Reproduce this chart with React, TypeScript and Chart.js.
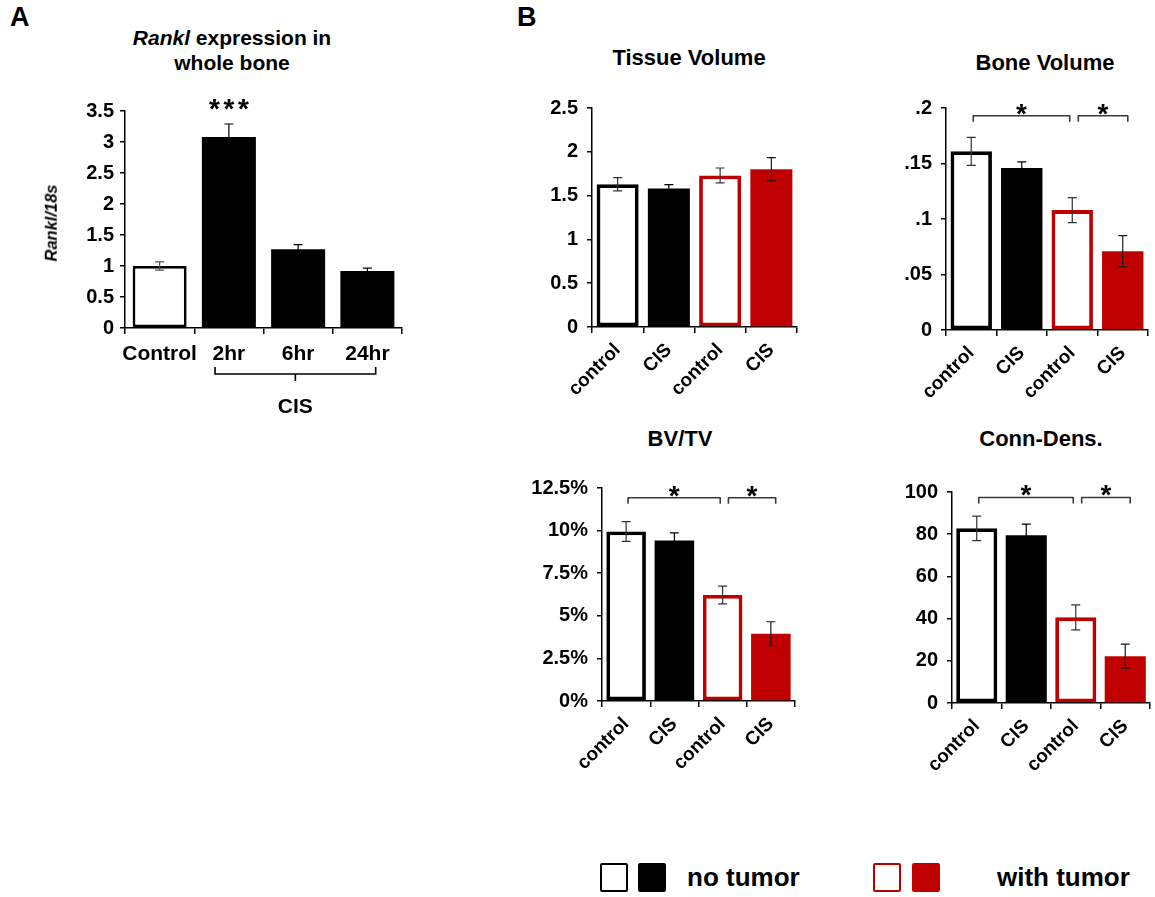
import React, { useEffect, useRef } from 'react';
import { Chart, registerables } from 'chart.js';

Chart.register(...registerables);

const FONT = "'Liberation Sans', Arial, Helvetica, sans-serif";
const RED = '#C00000';

// ---------- Panel A data ----------
const rankLabels = ['Control', '2hr', '6hr', '24hr'];
const rankMeans = [1.0, 3.08, 1.27, 0.92];
const rankErr = [0.065, 0.21, 0.075, 0.045];

// ---------- Panel B data ----------
const groupLabels = ['control', 'CIS', 'control', 'CIS'];
const tvMeans = [1.63, 1.58, 1.73, 1.8];
const tvErr = [0.076, 0.045, 0.085, 0.133];
const bvMeans = [0.161, 0.146, 0.108, 0.071];
const bvErr = [0.0126, 0.0055, 0.0113, 0.014];
const bvtvMeans = [9.95, 9.42, 6.22, 3.95];
const bvtvErr = [0.58, 0.45, 0.52, 0.7];
const connMeans = [82.8, 79.5, 40.6, 22.2];
const connErr = [5.8, 5.3, 5.9, 5.7];

// significance brackets: [fromIndex, toIndex]
const sigPairs = [
  [0.04, 1.95],
  [2.12, 3.1],
];
const bvSigLevel = 0.193;
const bvtvSigLevel = 11.93;
const connSigLevel = 97.4;

const groupFills = ['#ffffff', '#000000', '#ffffff', RED];
const groupBorders = ['#000000', '#000000', RED, RED];
const groupBorderW = [3.8, 0, 3.8, 0];
const groupErrColors = ['#333333', '#000000', '#333333', '#1a1a1a'];

type Bracket = { from: number; to: number; y: number };

type PanelProps = {
  left: number;
  top: number;
  width: number;
  height: number;
  yAxisWidth: number;
  padTop: number;
  padRight: number;
  xAxisHeight: number;
  labels: string[];
  means: number[];
  errs: number[];
  fills: string[];
  borders: string[];
  borderWidths: number[];
  errColors: string[];
  yMax: number;
  step: number;
  fmt: (v: number) => string;
  yFont: number;
  xFont: number;
  rotation: number;
  barPct: number;
  yPad: number;
  xPad: number;
  brackets?: Bracket[];
  extra?: (chart: any) => void;
};

function BarPanel(p: PanelProps) {
  const ref = useRef<HTMLCanvasElement>(null);
  useEffect(() => {
    const canvas = ref.current;
    if (!canvas) return;
    const overlay = {
      id: 'overlay',
      afterDatasetsDraw(chart: any) {
        const ctx = chart.ctx;
        const xs = chart.scales.x;
        const ys = chart.scales.y;
        const meta = chart.getDatasetMeta(0);
        ctx.save();
        meta.data.forEach((bar: any, i: number) => {
          const m = p.means[i];
          const e = p.errs[i];
          const yh = ys.getPixelForValue(m + e);
          const yl = ys.getPixelForValue(m - e);
          ctx.strokeStyle = p.errColors[i];
          ctx.lineWidth = 1.2;
          ctx.beginPath();
          ctx.moveTo(bar.x, yl);
          ctx.lineTo(bar.x, yh);
          ctx.moveTo(bar.x - 4.5, yh);
          ctx.lineTo(bar.x + 4.5, yh);
          ctx.moveTo(bar.x - 4.5, yl);
          ctx.lineTo(bar.x + 4.5, yl);
          ctx.stroke();
        });
        (p.brackets || []).forEach((b) => {
          const x1 = xs.getPixelForValue(b.from);
          const x2 = xs.getPixelForValue(b.to);
          const y = ys.getPixelForValue(b.y);
          ctx.strokeStyle = '#3a3a3a';
          ctx.lineWidth = 1.6;
          ctx.lineJoin = 'round';
          ctx.beginPath();
          ctx.moveTo(x1, y + 6);
          ctx.lineTo(x1, y);
          ctx.lineTo(x2, y);
          ctx.lineTo(x2, y + 6);
          ctx.stroke();
          ctx.fillStyle = '#000';
          ctx.font = `bold 28px ${FONT}`;
          ctx.textAlign = 'center';
          ctx.textBaseline = 'alphabetic';
          ctx.fillText('*', (x1 + x2) / 2, y + 7);
        });
        if (p.extra) p.extra(chart);
        ctx.restore();
      },
    };
    const chart = new Chart(canvas, {
      type: 'bar',
      data: {
        labels: p.labels,
        datasets: [
          {
            data: p.means,
            backgroundColor: p.fills,
            borderColor: p.borders,
            borderWidth: p.borderWidths,
            borderSkipped: false,
            barPercentage: p.barPct,
            categoryPercentage: 1,
          },
        ],
      },
      options: {
        animation: false,
        responsive: false,
        maintainAspectRatio: false,
        layout: { padding: { top: p.padTop, right: p.padRight, left: 0, bottom: 0 } },
        plugins: {
          legend: { display: false },
          tooltip: { enabled: false },
          title: { display: false },
        },
        scales: {
          x: {
            grid: {
              display: true,
              drawOnChartArea: false,
              drawTicks: true,
              tickLength: 6,
              color: '#000',
              lineWidth: 1.5,
              offset: true,
            },
            border: { display: true, color: '#000', width: 1.5 },
            ticks: {
              color: '#000',
              font: { family: FONT, size: p.xFont, weight: 'bold' },
              padding: p.xPad,
              maxRotation: p.rotation,
              minRotation: p.rotation,
              autoSkip: false,
            },
            afterFit: (s: any) => {
              s.height = p.xAxisHeight;
            },
          },
          y: {
            min: 0,
            max: p.yMax,
            grid: {
              display: true,
              drawOnChartArea: false,
              drawTicks: true,
              tickLength: 5,
              color: '#000',
              lineWidth: 1.5,
            },
            border: { display: true, color: '#000', width: 1.5 },
            ticks: {
              stepSize: p.step,
              color: '#000',
              font: { family: FONT, size: p.yFont, weight: 'bold' },
              padding: p.yPad,
              callback: (v: any) => p.fmt(Number(v)),
            },
            afterFit: (s: any) => {
              s.width = p.yAxisWidth;
            },
          },
        },
      } as any,
      plugins: [overlay],
    });
    return () => chart.destroy();
  }, []);
  return (
    <canvas
      ref={ref}
      width={p.width}
      height={p.height}
      style={{ position: 'absolute', left: p.left, top: p.top, width: p.width, height: p.height }}
    />
  );
}

const fmtPlain = (v: number) => String(Math.round(v * 1000) / 1000);
const fmtNoLead = (v: number) => (v === 0 ? '0' : String(Math.round(v * 1000) / 1000).replace(/^0\./, '.'));
const fmtPct = (v: number) => `${Math.round(v * 10) / 10}%`;

const mkBrackets = (level: number): Bracket[] => sigPairs.map(([a, b]) => ({ from: a, to: b, y: level }));

function drawPanelAExtras(chart: any) {
  const ctx = chart.ctx;
  const xs = chart.scales.x;
  const ys = chart.scales.y;
  const area = chart.chartArea;
  // *** above 2hr bar
  const sx = xs.getPixelForValue(1);
  const sy = ys.getPixelForValue(rankMeans[1] + rankErr[1]) - 6;
  ctx.fillStyle = '#000';
  ctx.font = `bold 28px ${FONT}`;
  ctx.textAlign = 'center';
  ctx.textBaseline = 'alphabetic';
  [-1, 0, 1].forEach((k) => ctx.fillText('*', sx + k * 14.5, sy));
  // CIS bracket below axis
  const x1 = xs.getPixelForValue(0.8);
  const x2 = xs.getPixelForValue(3.12);
  const y = area.bottom + 46;
  ctx.strokeStyle = '#000';
  ctx.lineWidth = 1.6;
  ctx.beginPath();
  ctx.moveTo(x1, y - 7);
  ctx.lineTo(x1, y);
  ctx.lineTo(x2, y);
  ctx.lineTo(x2, y - 7);
  ctx.moveTo((x1 + x2) / 2, y);
  ctx.lineTo((x1 + x2) / 2, y + 7);
  ctx.stroke();
  ctx.font = `bold 21px ${FONT}`;
  ctx.fillText('CIS', (x1 + x2) / 2, area.bottom + 85);
}

function Text(props: {
  x: number;
  y: number;
  size: number;
  center?: boolean;
  italic?: boolean;
  children: React.ReactNode;
}) {
  return (
    <div
      style={{
        position: 'absolute',
        left: props.x,
        top: props.y,
        fontSize: props.size,
        fontWeight: 'bold',
        fontStyle: props.italic ? 'italic' : 'normal',
        lineHeight: 1,
        whiteSpace: 'nowrap',
        transform: props.center ? 'translateX(-50%)' : undefined,
        color: '#000',
      }}
    >
      {props.children}
    </div>
  );
}

function LegendBox(props: { x: number; fill: string; border: string }) {
  return (
    <div
      style={{
        position: 'absolute',
        left: props.x,
        top: 863,
        width: 28,
        height: 29,
        boxSizing: 'border-box',
        background: props.fill,
        border: `2.5px solid ${props.border}`,
        borderRadius: 2,
      }}
    />
  );
}

export default function App() {
  return (
    <div
      style={{
        position: 'absolute',
        left: 0,
        top: 0,
        width: 1155,
        height: 897,
        background: '#fff',
        fontFamily: FONT,
        overflow: 'hidden',
      }}
    >
      {/* Panel A */}
      <BarPanel
        left={20}
        top={80}
        width={410}
        height={350}
        yAxisWidth={105}
        padTop={31}
        padRight={28}
        xAxisHeight={102}
        labels={rankLabels}
        means={rankMeans}
        errs={rankErr}
        fills={['#ffffff', '#000000', '#000000', '#000000']}
        borders={['#000000', '#000000', '#000000', '#000000']}
        borderWidths={[2.8, 0, 0, 0]}
        errColors={['#555555', '#000000', '#000000', '#000000']}
        yMax={3.5}
        step={0.5}
        fmt={fmtPlain}
        yFont={20}
        xFont={21}
        rotation={0}
        barPct={0.78}
        yPad={6}
        xPad={8}
        extra={drawPanelAExtras}
      />
      {/* Tissue Volume */}
      <BarPanel
        left={520}
        top={85}
        width={290}
        height={335}
        yAxisWidth={72}
        padTop={23}
        padRight={13}
        xAxisHeight={93}
        labels={groupLabels}
        means={tvMeans}
        errs={tvErr}
        fills={groupFills}
        borders={groupBorders}
        borderWidths={groupBorderW}
        errColors={groupErrColors}
        yMax={2.5}
        step={0.5}
        fmt={fmtPlain}
        yFont={20}
        xFont={19}
        rotation={45}
        barPct={0.82}
        yPad={9}
        xPad={6}
      />
      {/* Bone Volume */}
      <BarPanel
        left={870}
        top={85}
        width={283}
        height={335}
        yAxisWidth={76}
        padTop={23}
        padRight={5}
        xAxisHeight={90}
        labels={groupLabels}
        means={bvMeans}
        errs={bvErr}
        fills={groupFills}
        borders={groupBorders}
        borderWidths={groupBorderW}
        errColors={groupErrColors}
        yMax={0.2}
        step={0.05}
        fmt={fmtNoLead}
        yFont={20}
        xFont={19}
        rotation={45}
        barPct={0.82}
        yPad={9}
        xPad={6}
        brackets={mkBrackets(bvSigLevel)}
      />
      {/* BV/TV */}
      <BarPanel
        left={515}
        top={465}
        width={295}
        height={340}
        yAxisWidth={87}
        padTop={23}
        padRight={15}
        xAxisHeight={104}
        labels={groupLabels}
        means={bvtvMeans}
        errs={bvtvErr}
        fills={groupFills}
        borders={groupBorders}
        borderWidths={groupBorderW}
        errColors={groupErrColors}
        yMax={12.5}
        step={2.5}
        fmt={fmtPct}
        yFont={20}
        xFont={19}
        rotation={45}
        barPct={0.82}
        yPad={9}
        xPad={6}
        brackets={mkBrackets(bvtvSigLevel)}
      />
      {/* Conn-Dens */}
      <BarPanel
        left={880}
        top={465}
        width={273}
        height={340}
        yAxisWidth={72}
        padTop={27}
        padRight={3}
        xAxisHeight={102}
        labels={groupLabels}
        means={connMeans}
        errs={connErr}
        fills={groupFills}
        borders={groupBorders}
        borderWidths={groupBorderW}
        errColors={groupErrColors}
        yMax={100}
        step={20}
        fmt={fmtPlain}
        yFont={20}
        xFont={19}
        rotation={45}
        barPct={0.83}
        yPad={9}
        xPad={6}
        brackets={mkBrackets(connSigLevel)}
      />

      {/* Panel letters */}
      <Text x={10} y={4} size={27}>A</Text>
      <Text x={517} y={4} size={27}>B</Text>

      {/* Panel A title */}
      <div
        style={{
          position: 'absolute',
          left: 232,
          top: 25,
          transform: 'translateX(-50%)',
          fontSize: 21,
          fontWeight: 'bold',
          lineHeight: '25px',
          textAlign: 'center',
          whiteSpace: 'nowrap',
        }}
      >
        <i>Rankl</i> expression in
        <br />
        whole bone
      </div>
      {/* Panel A y title */}
      <div
        style={{
          position: 'absolute',
          left: 51,
          top: 223,
          transform: 'translate(-50%, -50%) rotate(-90deg)',
          fontSize: 16.5,
          fontWeight: 'bold',
          fontStyle: 'italic',
          lineHeight: 1,
          whiteSpace: 'nowrap',
        }}
      >
        Rankl/18s
      </div>

      {/* Panel B titles */}
      <Text x={689} y={47} size={22} center>Tissue Volume</Text>
      <Text x={1045} y={52} size={22} center>Bone Volume</Text>
      <Text x={680} y={428} size={22} center>BV/TV</Text>
      <Text x={1041} y={428} size={22} center>Conn-Dens.</Text>

      {/* Legend */}
      <LegendBox x={600} fill="#ffffff" border="#000000" />
      <LegendBox x={638} fill="#000000" border="#000000" />
      <Text x={687} y={864} size={26}>no tumor</Text>
      <LegendBox x={873} fill="#ffffff" border={RED} />
      <LegendBox x={912} fill={RED} border={RED} />
      <Text x={997} y={864} size={26}>with tumor</Text>
    </div>
  );
}
